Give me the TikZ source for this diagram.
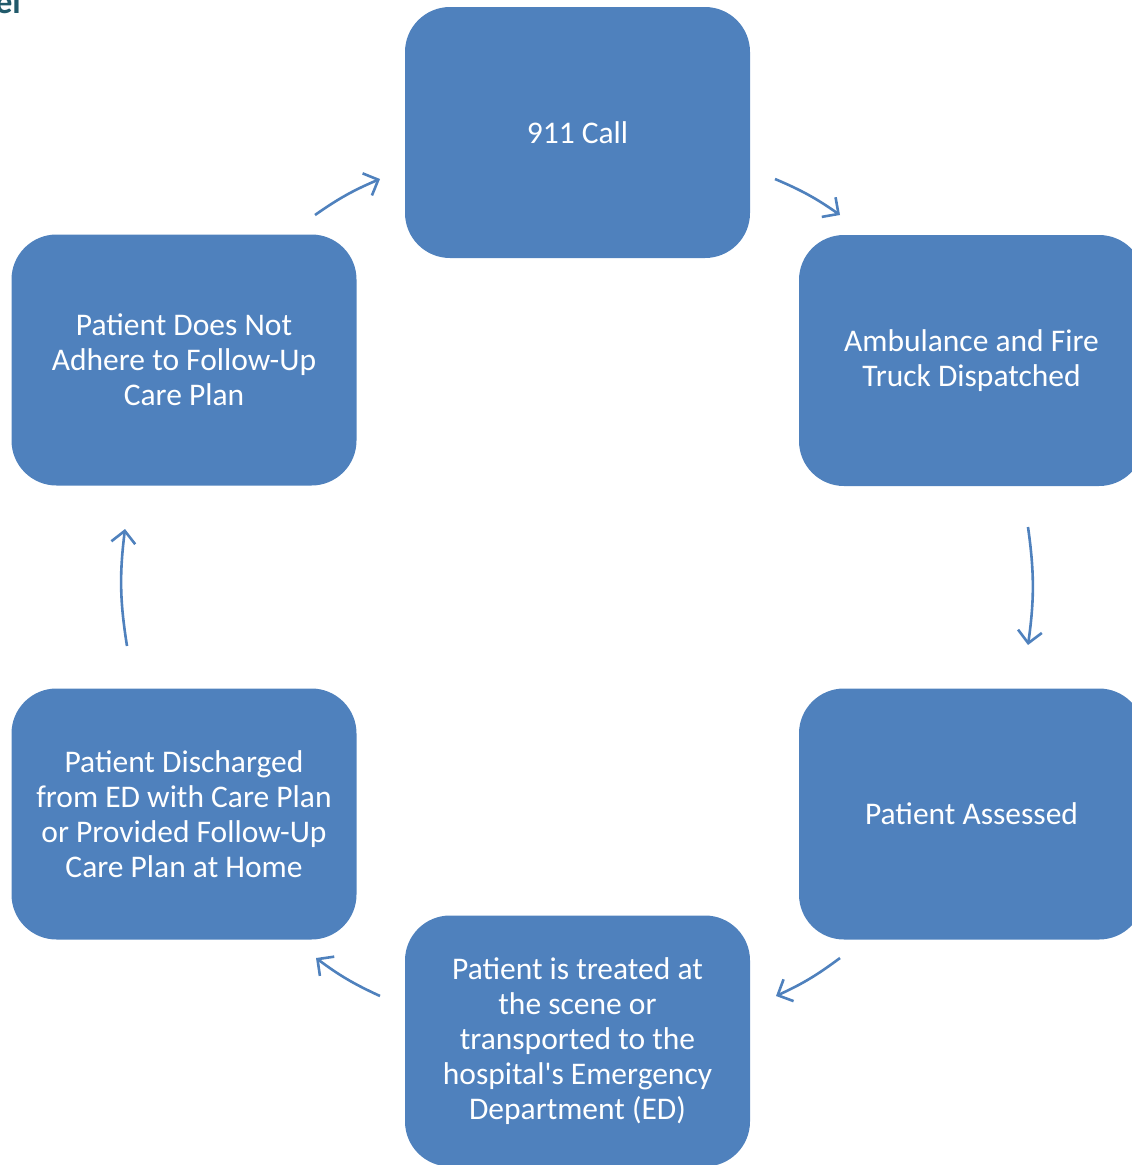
\documentclass[tikz,border=0pt]{standalone}
\usepackage{fontspec}
\setmainfont{Carlito}[Ligatures=TeXOff]
\usetikzlibrary{arrows.meta}
\definecolor{boxblue}{HTML}{4F81BD}
\definecolor{titleteal}{HTML}{215A6B}
\tikzset{
  stepbox/.style={draw=none, fill=boxblue, rounded corners=45pt, minimum width=345pt, minimum height=251pt,
    text=white, align=center, font=\fontsize{31.5}{35}\selectfont, inner sep=0pt},
  flowarrow/.style={draw=boxblue, line width=2.6pt, -{Straight Barb[length=12pt,width=24pt,line width=2.6pt]}},
}
\begin{document}
\begin{tikzpicture}[x=1pt,y=-1pt]
\useasboundingbox (0,0) rectangle (1132,1165);
\node[anchor=base east, text=titleteal, font=\bfseries\fontsize{34}{40}\selectfont, inner sep=0pt] (title) at (21,13) {el};
\node[stepbox] (call) at (577.5,132.5) {911 Call};
\node[stepbox] (amb) at (971.5,360.5) {Ambulance and Fire\\Truck Dispatched};
\node[stepbox] (assess) at (971.5,814) {Patient Assessed};
\node[stepbox] (treat) at (577.5,1041) {Patient is treated at\\the scene or\\transported to the\\hospital's Emergency\\Department (ED)};
\node[stepbox] (disch) at (184,814) {Patient Discharged\\from ED with Care Plan\\or Provided Follow-Up\\Care Plan at Home};
\node[stepbox] (adhere) at (184,360) {Patient Does Not\\Adhere to Follow-Up\\Care Plan};
\coordinate (a1s) at (315,215); \coordinate (a1e) at (380,179);
\coordinate (a2s) at (775,179); \coordinate (a2e) at (840,215);
\coordinate (a3s) at (1028,527); \coordinate (a3e) at (1028,645);
\coordinate (a4s) at (840,958); \coordinate (a4e) at (776,996);
\coordinate (a5s) at (380,996); \coordinate (a5e) at (316,958);
\coordinate (a6s) at (127,646); \coordinate (a6e) at (125,529);
\draw[flowarrow] (a1s) to[bend left=6] (a1e);
\draw[flowarrow] (a2s) to[bend left=6] (a2e);
\draw[flowarrow] (a3s) to[bend left=8] (a3e);
\draw[flowarrow] (a4s) to[bend left=6] (a4e);
\draw[flowarrow] (a5s) to[bend left=6] (a5e);
\draw[flowarrow] (a6s) to[bend left=8] (a6e);
\end{tikzpicture}
\end{document}
